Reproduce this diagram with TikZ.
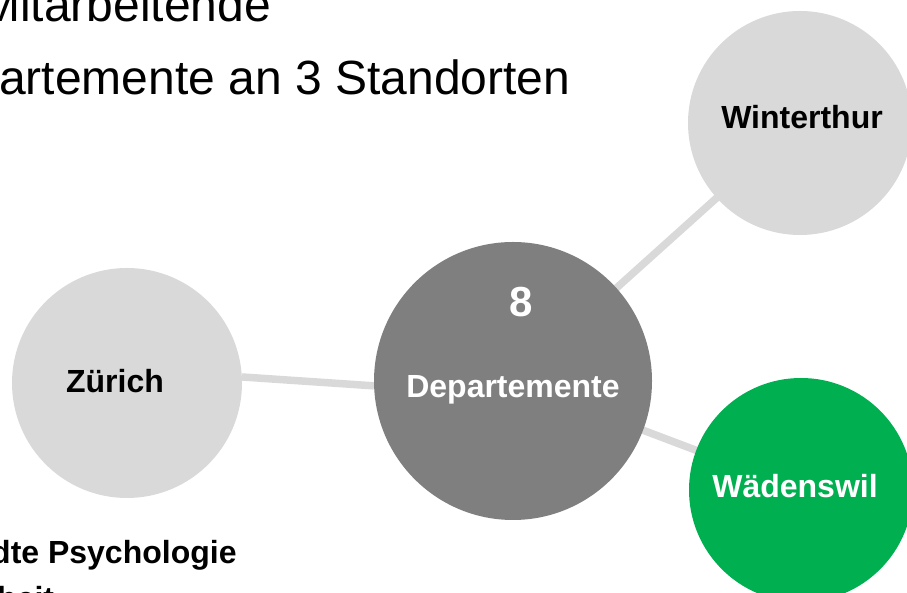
\documentclass[tikz,border=0pt]{standalone}
\usepackage{fontspec}
\setmainfont{Liberation Sans}
\usepackage{tikz}
\usetikzlibrary{positioning}
\usetikzlibrary{backgrounds}
\definecolor{lightgrey}{HTML}{D9D9D9}
\definecolor{midgrey}{HTML}{7F7F7F}
\definecolor{campusgreen}{HTML}{00B050}

\begin{document}
\begin{tikzpicture}[x=1pt, y=1pt,
        city/.style={circle, fill=lightgrey, minimum size=224pt, inner sep=0pt},
        hub/.style={circle, fill=midgrey, minimum size=278pt, inner sep=0pt},
        link/.style={draw=lightgrey, line width=7.5pt},
        citylabel/.style={anchor=base, inner sep=0pt, font=\fontsize{32}{38}\selectfont\bfseries},
        headline/.style={anchor=base west, inner sep=0pt, font=\fontsize{48}{58}\selectfont},
        ]
            \useasboundingbox (0,0) rectangle (907,593);
            \clip (0,0) rectangle (907,593);

            % circles
            \node[hub] (Dep) at (513, 212) {};
            \node[city, minimum size=230pt] (Zur) at (127, 210) {};
            \node[city] (Win) at (800, 470) {};
            \node[city, fill=campusgreen] (Wae) at (801, 103) {};

            % connectors
            \begin{scope}[on background layer]
                \draw[link] (Zur.3) -- (Dep.182);
                \draw[link] (Dep.center) -- (Win.center);
                \draw[link] (Dep.center) -- (Wae.center);
            \end{scope}

            % labels
            \node[citylabel, font=\fontsize{42}{50}\selectfont\bfseries, text=white] (DepNum) at (521, 276) {8};
            \node[citylabel, text=white] (DepText) at (513, 195) {Departemente};
            \node[citylabel] (ZurText) at (115, 200) {Zürich};
            \node[citylabel] (WinText) at (802, 464) {Winterthur};
            \node[citylabel, text=white] (WaeText) at (795, 95) {Wädenswil};

            % cut text at the edges
            \node[headline] (Head1) at (-20, 571) {Mitarbeitende};
            \node[headline] (Head2) at (-1, 498) {artemente an 3 Standorten};
            \node[citylabel, anchor=base west] (Foot1) at (-9, 29) {dte Psychologie};
            \node[citylabel, anchor=base west] (Foot2) at (-3, -17) {heit};
        \end{tikzpicture}
\end{document}
